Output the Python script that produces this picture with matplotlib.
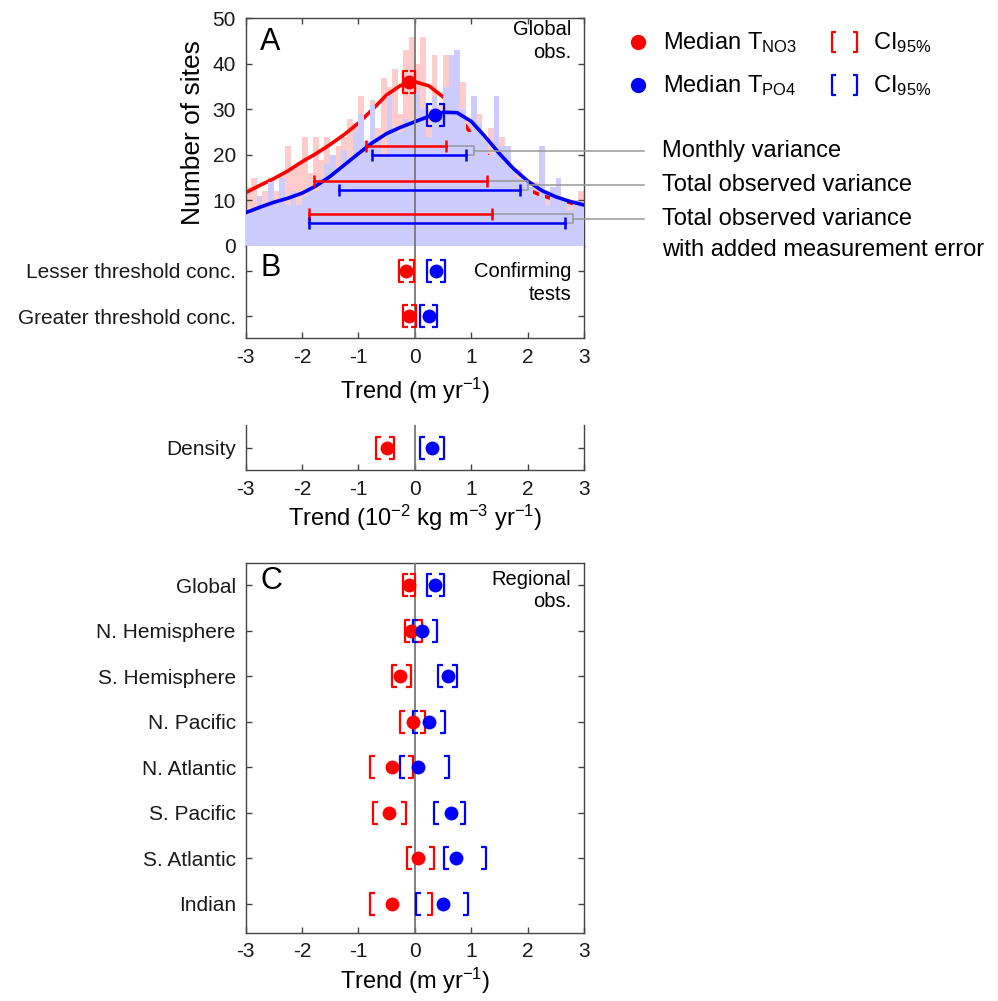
import numpy as np
import matplotlib.pyplot as plt
from matplotlib.path import Path
from matplotlib.lines import Line2D

plt.rcParams['font.family'] = ['Liberation Sans', 'DejaVu Sans']
plt.rcParams['mathtext.fontset'] = 'custom'
plt.rcParams['mathtext.rm'] = 'Liberation Sans'
plt.rcParams['mathtext.it'] = 'Liberation Sans:italic'
plt.rcParams['mathtext.default'] = 'regular'

# ---------------- data ----------------
# histogram (bin width 0.1, from -3 to 3)
bin_width = 0.1
bin_left = np.round(np.linspace(-3.0, 2.9, 60), 2)
hist_no3 = [13, 15, 11, 12, 15, 12, 16, 22, 17, 18,
            24, 16, 24, 19, 24, 20, 22, 24, 28, 27,
            33, 22, 32, 26, 37, 35, 39, 29, 43, 46,
            40, 46, 30, 42, 31, 42, 33, 28, 36, 28,
            24, 29, 22, 26, 19, 24, 20, 14, 17, 15,
            11, 14, 9, 12, 8, 10, 7, 9, 8, 12]
hist_po4 = [7, 8, 11, 9, 14, 10, 15, 9, 12, 9,
            11, 13, 12, 15, 18, 20, 17, 21, 19, 25,
            29, 23, 31, 24, 20, 33, 25, 25, 28, 27,
            34, 30, 24, 33, 29, 35, 42, 43, 30, 25,
            33, 27, 24, 20, 33, 22, 22, 17, 15, 14,
            13, 11, 22, 9, 13, 15, 10, 8, 10, 9]

# smoothed distributions
curve_x = [-3, -2.75, -2.5, -2.25, -2, -1.75, -1.5, -1.25, -1, -0.75, -0.5, -0.25,
           0, 0.25, 0.5, 0.75, 1, 1.25, 1.5, 1.75, 2, 2.25, 2.5, 2.75, 3]
curve_no3 = [11.7, 13.3, 14.8, 16.5, 18.5, 20.3, 22.3, 24.5, 27.0, 30.0, 33.2, 35.3,
             36.1, 35.2, 32.8, 29.0, 24.7, 20.5, 16.8, 14.2, 12.4, 11.1, 10.2, 9.5, 9.0]
curve_po4 = [7.3, 8.5, 9.6, 10.5, 11.6, 13.2, 15.3, 17.8, 20.3, 22.7, 24.7, 26.1,
             27.3, 28.5, 29.4, 29.3, 27.4, 24.0, 20.3, 17.0, 14.3, 12.2, 10.8, 9.8, 9.0]

# medians and 95% CI in panel A
medA_no3, ciA_no3, yA_no3 = -0.10, (-0.21, 0.01), 36.1
medA_po4, ciA_po4, yA_po4 = 0.36, (0.21, 0.51), 28.9

# variance ranges: (low, high, y)
var_labels = ['Monthly variance', 'Total observed variance', 'Total observed variance']
var_no3 = [(-0.86, 0.56, 21.9), (-1.79, 1.28, 14.3), (-1.87, 1.375, 7.0)]
var_po4 = [(-0.75, 0.915, 19.9), (-1.34, 1.86, 12.3), (-1.88, 2.67, 5.0)]

# panel B
testsB = ['Lesser threshold conc.', 'Greater threshold conc.']
medB_no3 = [-0.16, -0.10]
ciB_no3 = [(-0.28, -0.02), (-0.21, 0.03)]
medB_po4 = [0.37, 0.25]
ciB_po4 = [(0.22, 0.53), (0.10, 0.39)]

# density
dens_label = ['Density']
medD_no3 = [-0.49]
ciD_no3 = [(-0.69, -0.37)]
medD_po4 = [0.31]
ciD_po4 = [(0.09, 0.51)]

# panel C
regions = ['Global', 'N. Hemisphere', 'S. Hemisphere', 'N. Pacific', 'N. Atlantic',
           'S. Pacific', 'S. Atlantic', 'Indian']
medC_no3 = [-0.10, -0.06, -0.27, -0.03, -0.40, -0.46, 0.06, -0.40]
ciC_no3 = [(-0.21, 0.01), (-0.17, 0.13), (-0.40, -0.06), (-0.27, 0.18), (-0.80, -0.03),
           (-0.74, -0.15), (-0.14, 0.34), (-0.80, 0.31)]
medC_po4 = [0.36, 0.13, 0.59, 0.25, 0.06, 0.65, 0.73, 0.50]
ciC_po4 = [(0.21, 0.51), (-0.04, 0.39), (0.41, 0.75), (-0.04, 0.53), (-0.27, 0.61),
           (0.34, 0.89), (0.51, 1.26), (0.02, 0.95)]

xticks = [-3, -2, -1, 0, 1, 2, 3]

RED = '#ff0000'
BLUE = '#0000ff'
PINK = '#ffcccc'
LAV = '#ccccff'
GRAY = '#999999'
SPINE = '#444444'

# bracket markers
lb_path = Path([(0.45, 1), (0, 1), (0, -1), (0.45, -1)],
               [Path.MOVETO, Path.LINETO, Path.LINETO, Path.LINETO])
rb_path = Path([(-0.45, 1), (0, 1), (0, -1), (-0.45, -1)],
               [Path.MOVETO, Path.LINETO, Path.LINETO, Path.LINETO])


def style_axes(ax):
  for s in ax.spines.values():
    s.set_color(SPINE)
    s.set_linewidth(1.0)
  ax.tick_params(direction='in', length=4, width=1.0, color=SPINE,
                 labelsize=15, labelcolor='#1a1a1a', pad=7)
  ax.set_xlim(-3, 3)
  ax.axvline(0, color='#777777', lw=1.3, zorder=5)


def draw_ci(ax, med, ci, y, color, ms=10, bs=16):
  ax.plot([ci[0]], [y], marker=lb_path, ms=bs, mfc='none', mec=color, mew=1.6,
          ls='none', zorder=7, clip_on=False)
  ax.plot([ci[1]], [y], marker=rb_path, ms=bs, mfc='none', mec=color, mew=1.6,
          ls='none', zorder=7, clip_on=False)
  ax.plot([med], [y], 'o', ms=ms, color=color, mec='none', zorder=8)


def dot_panel(ax, labels, m1, c1, m2, c2):
  n = len(labels)
  ypos = np.arange(1, n + 1)
  for i in range(n):
    draw_ci(ax, m1[i], c1[i], ypos[i], RED)
    draw_ci(ax, m2[i], c2[i], ypos[i], BLUE)
  ax.set_yticks(ypos)
  ax.set_yticklabels(labels)
  ax.set_xticks(xticks)
  ax.set_xticklabels([str(t) for t in xticks])
  ax.tick_params(axis='y', left=True, right=True)
  ax.tick_params(axis='x', top=False, bottom=True)


def main():
  fig = plt.figure(figsize=(9.98, 10.01), dpi=100)

  # ---------- panel A ----------
  axA = fig.add_axes([0.246, 0.75425, 0.3392, 0.22727])
  style_axes(axA)
  axA.bar(bin_left, hist_no3, width=bin_width, align='edge', color=PINK, lw=0, zorder=1)
  axA.plot(curve_x, curve_no3, color=RED, lw=2.6, zorder=2)
  axA.bar(bin_left, hist_po4, width=bin_width, align='edge', color=LAV, lw=0, zorder=3)
  axA.plot(curve_x, curve_po4, color=BLUE, lw=2.6, zorder=4)
  axA.set_ylim(0, 50)
  axA.set_yticks([0, 10, 20, 30, 40, 50])
  axA.set_xticks(xticks)
  axA.tick_params(axis='x', top=True, bottom=False, labelbottom=False)
  axA.tick_params(axis='y', left=True, right=True)
  axA.set_ylabel('Number of sites', fontsize=19)
  axA.yaxis.set_label_coords(-0.12, 0.5)

  label_x = 4.39
  for k in range(3):
    r = var_no3[k]
    b = var_po4[k]
    axA.plot([r[0], r[1]], [r[2], r[2]], color=RED, lw=1.8, zorder=6)
    axA.plot([r[0], r[1]], [r[2], r[2]], '|', color=RED, ms=8, mew=1.8, zorder=6)
    axA.plot([b[0], b[1]], [b[2], b[2]], color=BLUE, lw=1.8, zorder=6)
    axA.plot([b[0], b[1]], [b[2], b[2]], '|', color=BLUE, ms=8, mew=1.8, zorder=6)
    bx = max(r[1], b[1]) + 0.14
    axA.plot([r[1], bx, bx, b[1]], [r[2], r[2], b[2], b[2]], color=GRAY, lw=1.1,
             zorder=5.5, clip_on=False)
    mid = (r[2] + b[2]) / 2
    axA.plot([bx, 4.07], [mid, mid], color=GRAY, lw=1.1, zorder=5.5, clip_on=False)
    axA.text(label_x, mid, var_labels[k], fontsize=17, va='center', ha='left',
             clip_on=False)
  axA.annotate('with added measurement error', xy=(label_x, (var_no3[2][2] + var_po4[2][2]) / 2),
               xytext=(0, -22.5), textcoords='offset points', fontsize=17,
               va='center', ha='left', annotation_clip=False)

  draw_ci(axA, medA_no3, ciA_no3, yA_no3, RED)
  draw_ci(axA, medA_po4, ciA_po4, yA_po4, BLUE)
  axA.text(0.044, 0.895, 'A', transform=axA.transAxes, fontsize=22, va='center', zorder=9)
  axA.text(0.962, 0.9, 'Global\nobs.', transform=axA.transAxes, fontsize=14.5,
           ha='right', va='center', linespacing=1.25, zorder=9)

  # ---------- panel B ----------
  axB = fig.add_axes([0.246, 0.66204, 0.3392, 0.09221])
  style_axes(axB)
  dot_panel(axB, testsB, medB_no3, ciB_no3, medB_po4, ciB_po4)
  axB.set_ylim(2.49, 0.45)
  axB.spines['top'].set_visible(False)
  axB.set_xlabel('Trend (m yr$^{-1}$)', fontsize=17, labelpad=6)
  axB.text(0.044, 0.76, 'B', transform=axB.transAxes, fontsize=22, va='center')
  axB.text(0.962, 0.6, 'Confirming\ntests', transform=axB.transAxes, fontsize=14.5,
           ha='right', va='center', linespacing=1.25)

  # ---------- density ----------
  axD = fig.add_axes([0.246, 0.53047, 0.3392, 0.04495])
  style_axes(axD)
  dot_panel(axD, dens_label, medD_no3, ciD_no3, medD_po4, ciD_po4)
  axD.set_ylim(1.5, 0.5)
  axD.spines['top'].set_visible(False)
  axD.set_xlabel('Trend (10$^{-2}$ kg m$^{-3}$ yr$^{-1}$)', fontsize=17, labelpad=3)

  # ---------- panel C ----------
  axC = fig.add_axes([0.246, 0.06823, 0.3392, 0.36963])
  style_axes(axC)
  dot_panel(axC, regions, medC_no3, ciC_no3, medC_po4, ciC_po4)
  axC.set_ylim(8.63, 0.51)
  axC.set_xlabel('Trend (m yr$^{-1}$)', fontsize=17, labelpad=3)
  axC.text(0.044, 0.95, 'C', transform=axC.transAxes, fontsize=22, va='center')
  axC.text(0.962, 0.925, 'Regional\nobs.', transform=axC.transAxes, fontsize=14.5,
           ha='right', va='center', linespacing=1.25)

  # ---------- legend ----------
  def fx(px):
    return px / 998.0

  def fy(py):
    return 1 - py / 1001.0

  for color, name, yc, base in [(RED, 'Median T$_{NO3}$', 42, 49.5),
                                (BLUE, 'Median T$_{PO4}$', 85, 92)]:
    fig.add_artist(Line2D([fx(638)], [fy(yc)], marker='o', ms=11, color=color,
                          mec='none', transform=fig.transFigure))
    fig.add_artist(Line2D([fx(832)], [fy(yc)], marker=lb_path, ms=14, mfc='none',
                          mec=color, mew=1.6, transform=fig.transFigure))
    fig.add_artist(Line2D([fx(857)], [fy(yc)], marker=rb_path, ms=14, mfc='none',
                          mec=color, mew=1.6, transform=fig.transFigure))
    fig.text(fx(663), fy(base), name, fontsize=17, va='baseline', ha='left')
    fig.text(fx(873), fy(base), 'CI$_{95\\%}$', fontsize=17, va='baseline', ha='left')

  plt.savefig('out.png', dpi=100)


if __name__ == "__main__":
  main()
